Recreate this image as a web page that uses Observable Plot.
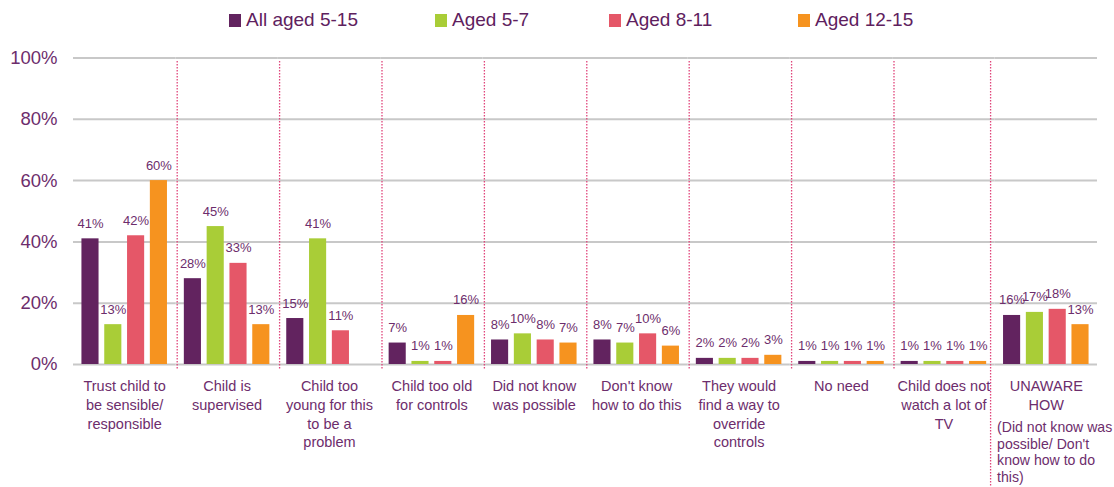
<!DOCTYPE html>
<html><head><meta charset="utf-8">
<script src="https://cdn.jsdelivr.net/npm/d3@7"></script>
<script src="https://cdn.jsdelivr.net/npm/@observablehq/plot@0.6"></script>
<style>
body{margin:0;background:#fff;font-family:"Liberation Sans",Arial,sans-serif;}
#legend{height:40px;position:relative;}
.item{position:absolute;top:0;height:40px;display:flex;align-items:center;font-size:19px;color:#5e215e;white-space:nowrap;}
.sw{width:12px;height:13px;margin-right:5px;}
</style></head><body>
<div id="legend"></div><div id="chart"></div>
<script>
const categories = ["Trust", "Supervised", "TooYoung", "TooOld", "NotKnowPossible", "DontKnowHow", "Override", "NoNeed", "NotMuchTV", "Unaware"];
const categoryLabels = [
  "Trust child to\nbe sensible/\nresponsible",
  "Child is\nsupervised",
  "Child too\nyoung for this\nto be a\nproblem",
  "Child too old\nfor controls",
  "Did not know\nwas possible",
  "Don't know\nhow to do this",
  "They would\nfind a way to\noverride\ncontrols",
  "No need",
  "Child does not\nwatch a lot of\nTV",
  "UNAWARE\nHOW"
];
const noteLabel = "(Did not know was\npossible/ Don't\nknow how to do\nthis)";
const series = ["All aged 5-15", "Aged 5-7", "Aged 8-11", "Aged 12-15"];
const colors = ["#62235f", "#a9cd37", "#e55768", "#f6931f"];
const allAged = [41, 28, 15, 7, 8, 8, 2, 1, 1, 16];
const aged5to7 = [13, 45, 41, 1, 10, 7, 2, 1, 1, 17];
const aged8to11 = [42, 33, 11, 1, 8, 10, 2, 1, 1, 18];
const aged12to15 = [60, 13, null, 16, 7, 6, 3, 1, 1, 13];
const yTicks = [0, 20, 40, 60, 80, 100];

const valuesBySeries = [allAged, aged5to7, aged8to11, aged12to15];
const data = [];
categories.forEach((c, i) => series.forEach((s, j) => {
  const v = valuesBySeries[j][i];
  if (v != null) data.push({category: c, series: s, value: v});
}));
const labelData = categories.map((c, i) => ({category: c, label: categoryLabels[i]}));

// legend (HTML, above the SVG)
const legendLeft = [229, 435, 609, 798];
const leg = document.getElementById("legend");
series.forEach((s, i) => {
  const it = document.createElement("div"); it.className = "item"; it.style.left = legendLeft[i] + "px";
  const sw = document.createElement("div"); sw.className = "sw"; sw.style.background = colors[i];
  const tx = document.createElement("span"); tx.textContent = s;
  it.appendChild(sw); it.appendChild(tx); leg.appendChild(it);
});

const purple = "#6d2d6c";
const sepColor = "#e0457b";
const sepStyle = {stroke: sepColor, strokeWidth: 1.3, strokeDasharray: "1.5,1.5", insetTop: 3.5};
const chart = Plot.plot({
  width: 1114, height: 447,
  marginTop: 17.5, marginBottom: 123, marginLeft: 73, marginRight: 17,
  style: {fontFamily: "'Liberation Sans', Arial, sans-serif", background: "#fff"},
  fx: {domain: categories, paddingInner: 0, paddingOuter: 0, round: false, axis: null, label: null},
  x: {domain: series, paddingInner: 0.25, paddingOuter: 0.37, round: false, axis: null, label: null},
  y: {domain: [0, 100], axis: null, label: null},
  color: {domain: series, range: colors},
  marks: [
    Plot.gridY(yTicks, {stroke: "#c8c8c8", strokeOpacity: 1, strokeWidth: 2}),
    Plot.axisY(yTicks, {tickSize: 0, tickPadding: 16, fontSize: 18.5, fill: purple, tickFormat: d => d + "%", label: null}),
    Plot.ruleX(categories.slice(1, -1), {fx: d => d, x: () => series[0], dx: -15.7, insetBottom: -6, ...sepStyle}),
    Plot.ruleX(categories.slice(-1), {fx: d => d, x: () => series[0], dx: -21.5, insetBottom: -123, ...sepStyle}),
    Plot.barY(data, {fx: "category", x: "series", y: "value", fill: "series"}),
    Plot.text(data, {fx: "category", x: "series", y: "value", text: d => d.value + "%", lineAnchor: "bottom", dy: -11, fontSize: 13, fill: purple}),
    Plot.text(labelData, {fx: "category", text: "label", frameAnchor: "bottom", lineAnchor: "top", dy: 13, fontSize: 14.5, lineHeight: 1.3, fill: purple}),
    Plot.text([noteLabel], {fx: () => categories[categories.length - 1], text: d => d, frameAnchor: "bottom-left", textAnchor: "start", lineAnchor: "top", dy: 56, dx: 2, fontSize: 14.1, lineHeight: 1.17, fill: purple})
  ]
});
document.getElementById("chart").appendChild(chart);
</script>
</body></html>
